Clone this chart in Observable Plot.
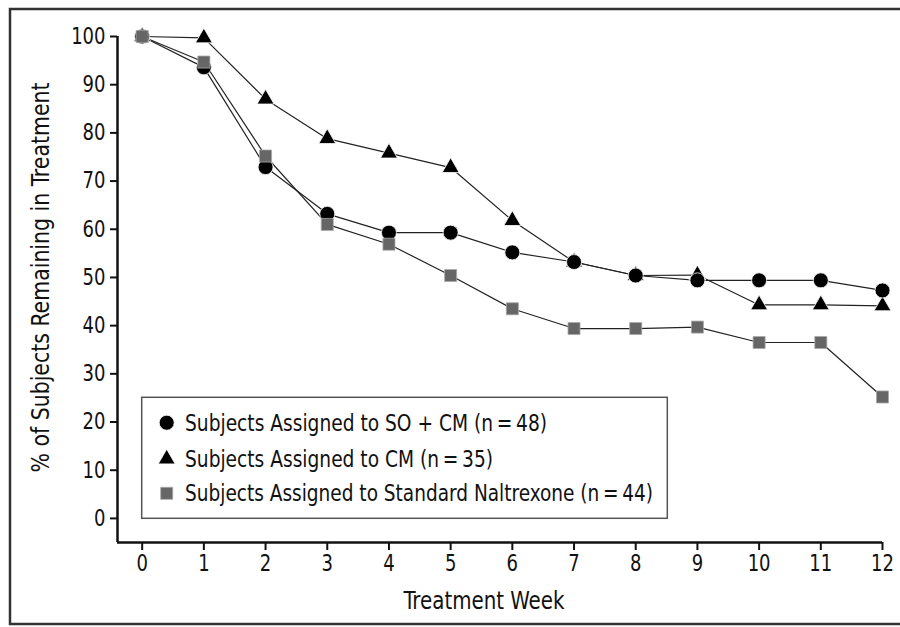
<!DOCTYPE html>
<html><head><meta charset="utf-8">
<script src="https://cdn.jsdelivr.net/npm/d3@7"></script>
<script src="https://cdn.jsdelivr.net/npm/@observablehq/plot@0.6"></script>
<style>
html,body{margin:0;padding:0;background:#fff;}
body{width:900px;height:627px;overflow:hidden;}
</style></head><body><div id="chart"></div>
<script>
const weeks = [0,1,2,3,4,5,6,7,8,9,10,11,12];
const seriesNames = [
  "Subjects Assigned to SO + CM (n\u2009=\u200948)",
  "Subjects Assigned to CM (n\u2009=\u200935)",
  "Subjects Assigned to Standard Naltrexone (n\u2009=\u200944)"
];
const soCmValues       = [100, 93.6, 72.9, 63.2, 59.3, 59.3, 55.2, 53.2, 50.4, 49.4, 49.4, 49.4, 47.3];
const cmValues         = [100, 99.7, 87.0, 78.8, 75.8, 72.8, 61.8, 53.2, 50.4, 50.5, 44.3, 44.3, 44.1];
const naltrexoneValues = [100, 94.7, 75.2, 61.0, 56.9, 50.4, 43.5, 39.4, 39.4, 39.7, 36.5, 36.5, 25.2];
const xTicks = [0,1,2,3,4,5,6,7,8,9,10,11,12];
const yTicks = [0,10,20,30,40,50,60,70,80,90,100];
const xDomain = [-0.4, 12];
const yDomain = [-5, 100];
const yLabel = "% of Subjects Remaining in Treatment";
const xLabel = "Treatment Week";

const FONT = "'DejaVu Sans Condensed', 'Liberation Sans Narrow', sans-serif";
const symbols = ["circle", "triangle", "square"];
const fills = ["#000", "#000", "#666"];
const strokes = ["#fff", "#fff", "#aaa"];
const radii = [7.5, 6.3, 6.8];

const allValues = [soCmValues, cmValues, naltrexoneValues];
const rows = [];
allValues.forEach((vals, s) => vals.forEach((v, i) => rows.push({series: seriesNames[s], idx: s, week: weeks[i], value: v})));

const lineMarks = seriesNames.map((name) =>
  Plot.line(rows.filter(d => d.series === name), {x: "week", y: "value", stroke: "#222", strokeWidth: 1.2})
);
// draw order: triangles, circles, squares
const dotOrder = [1, 0, 2];
const dotMarks = dotOrder.map(s =>
  Plot.dot(rows.filter(d => d.idx === s), {x: "week", y: "value", symbol: () => symbols[s], r: radii[s], fill: fills[s], stroke: strokes[s], strokeWidth: 0.8})
);

const plot = Plot.plot({
  width: 900, height: 627,
  marginLeft: 117, marginRight: 18, marginTop: 36, marginBottom: 85,
  style: {fontFamily: FONT, fontSize: "22px", color: "#111", background: "#fff"},
  x: {domain: xDomain},
  y: {domain: yDomain},
  symbol: {type: "identity"},
  marks: [
    Plot.axisX({ticks: xTicks, tickSize: 8, tickPadding: 4, tickFormat: d => String(d), label: null, strokeWidth: 2, fontSize: 23}),
    Plot.axisY({ticks: yTicks, tickSize: 7, tickPadding: 5, tickFormat: d => String(d), label: null, strokeWidth: 2, fontSize: 23}),
    Plot.ruleX([xDomain[0]], {y1: yDomain[0], y2: yDomain[1], stroke: "#111", strokeWidth: 2.5}),
    Plot.ruleY([yDomain[0]], {x1: xDomain[0], x2: xDomain[1], stroke: "#111", strokeWidth: 2.5}),
    ...lineMarks,
    ...dotMarks,
    Plot.text([yLabel], {frameAnchor: "left", dx: -77, dy: -12, rotate: -90, fontSize: 25, textAnchor: "middle", lineAnchor: "middle", fill: "#111"}),
    Plot.text([xLabel], {frameAnchor: "bottom", dx: -16, dy: 58, fontSize: 25, textAnchor: "middle", lineAnchor: "middle", fill: "#111"})
  ]
});
document.getElementById("chart").appendChild(plot);

// decorative outer frame and legend
const svg = d3.select(plot);
svg.append("rect").attr("x", 10).attr("y", 9).attr("width", 1000).attr("height", 615)
  .attr("fill", "none").attr("stroke", "#333").attr("stroke-width", 2.5);

const lg = svg.append("g").attr("text-anchor", "start");
lg.append("rect").attr("x", 141.7).attr("y", 397.3).attr("width", 525.6).attr("height", 121)
  .attr("fill", "#fff").attr("stroke", "#555").attr("stroke-width", 1.5);
const d3Sym = {circle: d3.symbolCircle, triangle: d3.symbolTriangle, square: d3.symbolSquare};
const legendY = [422.7, 459, 493.3];
seriesNames.forEach((name, s) => {
  lg.append("path")
    .attr("transform", `translate(166.7,${legendY[s]})`)
    .attr("d", d3.symbol(d3Sym[symbols[s]], Math.PI * radii[s] * radii[s])())
    .attr("fill", fills[s]).attr("stroke", strokes[s]).attr("stroke-width", 0.8);
  lg.append("text").attr("x", 185).attr("y", legendY[s]).attr("dy", "0.35em")
    .attr("text-anchor", "start")
    .attr("font-family", FONT).attr("font-size", 23).attr("fill", "#111").text(name);
});

// narrow the glyphs to match the condensed face of the original
const targetWidths = new Map([
  [xLabel, 161], [yLabel, 390],
  [seriesNames[0], 362], [seriesNames[1], 308], [seriesNames[2], 468]
]);
svg.selectAll("text").each(function() {
  const t = this.textContent;
  const len = this.getComputedTextLength();
  const w = targetWidths.has(t) ? targetWidths.get(t) : len * 0.87;
  this.setAttribute("textLength", w);
  this.setAttribute("lengthAdjust", "spacingAndGlyphs");
});
</script></body></html>
